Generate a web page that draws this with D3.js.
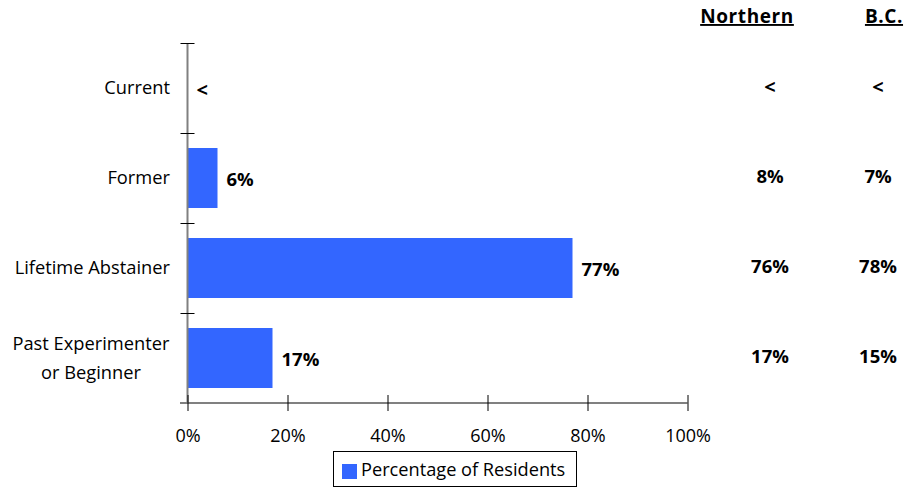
<!DOCTYPE html>
<html><head><meta charset="utf-8">
<script src="https://cdn.jsdelivr.net/npm/d3@7"></script>
<style>body{margin:0;background:#fff}svg{display:block}text{font-family:"Open Sans",sans-serif}</style>
</head><body><svg id="c" width="909" height="489"></svg>
<script>
const categories = ["Current", "Former", "Lifetime Abstainer", "Past Experimenter|or Beginner"];
const residents = [0, 6, 77, 17];
const residentLabels = ["<", "6%", "77%", "17%"];
const northernLabels = ["<", "8%", "76%", "17%"];
const bcLabels = ["<", "7%", "78%", "15%"];
const xTicks = [0, 20, 40, 60, 80, 100];
const columnHeaders = ["Northern", "B.C."];
const legendLabel = "Percentage of Residents";

const svg = d3.select("#c");
const x = d3.scaleLinear().domain([0, 100]).range([187.5, 687.5]);
const y = d3.scaleBand().domain(categories).range([43, 403]).paddingInner(1/3).paddingOuter(1/6);
const blue = "#3366ff";

// bars
svg.selectAll("rect.bar").data(categories).join("rect")
  .attr("x", x(0)).attr("y", d => y(d))
  .attr("width", (d, i) => x(residents[i]) - x(0))
  .attr("height", y.bandwidth()).attr("fill", blue);

// y axis line
svg.append("line").attr("x1", x(0)).attr("x2", x(0)).attr("y1", 43).attr("y2", 403)
  .attr("stroke", "#808080").attr("stroke-width", 2);
// y boundary ticks
const bounds = categories.map(c => y(c) - y.step() * y.paddingOuter()).concat([403]);
svg.selectAll("line.yt").data(bounds).join("line")
  .attr("x1", x(0) - 7).attr("x2", x(0) + 7).attr("y1", d => d + 0.5).attr("y2", d => d + 0.5)
  .attr("stroke", "#000").attr("stroke-width", 1);

// x axis
const xa = svg.append("g").attr("transform", "translate(0,403)")
  .call(d3.axisBottom(x).tickValues(xTicks).tickFormat(d => d + "%").tickSizeOuter(0).tickSizeInner(8).tickPadding(18));
xa.select(".domain").remove();
xa.append("line").attr("x1", 180).attr("x2", 687.5).attr("y1", 0).attr("y2", 0)
  .attr("stroke", "#808080").attr("stroke-width", 2).lower();
xa.selectAll(".tick line").attr("y1", -8).attr("y2", 8).attr("stroke", "#000");
xa.selectAll(".tick text").attr("font-size", 18).attr("fill", "#000")
  .attr("font-family", "Open Sans, sans-serif");

// category labels
categories.forEach(c => {
  const lines = c.split("|");
  const cy = y(c) + y.bandwidth() / 2;
  const lh = 29;
  const t = svg.append("text").attr("font-size", 18.3).attr("fill", "#000")
    .attr("text-anchor", lines.length > 1 ? "middle" : "end");
  lines.forEach((l, i) => {
    t.append("tspan").attr("x", lines.length > 1 ? 91 : 170)
      .attr("y", cy + (i - (lines.length - 1) / 2) * lh).attr("dy", "0.35em").text(l);
  });
});

// value labels
svg.selectAll("text.val").data(categories).join("text")
  .attr("x", (d, i) => x(residents[i]) + 9).attr("y", d => y(d) + y.bandwidth() / 2 + 2)
  .attr("dy", "0.35em").attr("font-size", (d, i) => residentLabels[i] === "<" ? 20 : 18.5)
  .attr("font-weight", "bold")
  .text((d, i) => residentLabels[i]);

// comparison columns
const colX = [770, 878];
[northernLabels, bcLabels].forEach((labs, j) => {
  svg.selectAll("text.col" + j).data(categories).join("text")
    .attr("x", colX[j]).attr("y", d => y(d) + y.bandwidth() / 2 - 1)
    .attr("dy", "0.35em").attr("text-anchor", "middle")
    .attr("font-size", (d, i) => labs[i] === "<" ? 20 : 18.5)
    .attr("font-weight", "bold")
    .text((d, i) => labs[i]);
});
const headX = [747, 884];
columnHeaders.forEach((h, j) => {
  svg.append("text").attr("x", headX[j]).attr("y", 23).attr("text-anchor", "middle")
    .attr("font-size", 19).attr("font-weight", "bold").attr("letter-spacing", 0.6)
    .attr("text-decoration", "underline")
    .attr("font-family", "Lato, sans-serif").text(h);
});

// legend
const lg = svg.append("g");
lg.append("rect").attr("x", 333.5).attr("y", 451.5).attr("width", 243).attr("height", 35)
  .attr("fill", "#fff").attr("stroke", "#000").attr("stroke-width", 1);
lg.append("rect").attr("x", 342).attr("y", 464).attr("width", 15).attr("height", 15).attr("fill", blue);
lg.append("text").attr("x", 361).attr("y", 476).attr("font-size", 18.2).text(legendLabel);
</script></body></html>
